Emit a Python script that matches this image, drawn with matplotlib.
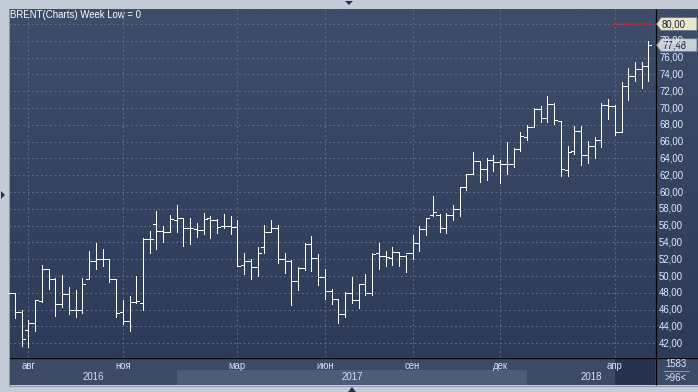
import numpy as np
import matplotlib
matplotlib.use("Agg")
import matplotlib.pyplot as plt
from matplotlib.patches import Rectangle, Polygon
import matplotlib.transforms as mtransforms

W, H = 698, 392

# ---------------- data (weekly OHLC, BRENT) ----------------
opens = [48.4, 48.0, 45.7, 43.6, 44.4, 47.0, 50.8, 49.6, 46.7, 47.9,
         46.0, 46.0, 49.7, 51.8, 52.0, 52.0, 49.6, 45.7, 44.6, 46.9,
         46.75, 54.4, 56.2, 55.4, 55.2, 56.7, 56.9, 55.7, 55.6, 55.5,
         56.9, 56.7, 55.9, 56.0, 55.8, 51.3, 51.8, 51.1, 53.5, 55.2,
         55.7, 52.0, 51.8, 49.4, 50.9, 53.8, 52.2, 49.9, 48.2, 47.3,
         45.5, 48.0, 47.1, 49.0, 48.0, 52.7, 52.4, 52.2, 52.9, 52.4,
         52.7, 53.9, 55.6, 57.3, 57.3, 55.75, 57.3, 58.0, 60.6, 62.1,
         63.7, 62.7, 63.8, 63.6, 63.3, 63.3, 65.1, 66.6, 67.7, 69.9,
         68.8, 70.5, 68.5, 62.6, 64.9, 67.3, 64.4, 65.5, 66.2, 70.4,
         70.3, 67.1, 72.6, 73.8, 74.6, 75.0]
highs = [48.8, 48.0, 45.9, 44.8, 47.2, 51.3, 50.8, 49.8, 50.1, 48.7,
         48.3, 49.8, 53.0, 53.9, 53.2, 52.0, 49.7, 47.1, 47.6, 50.0,
         54.5, 55.4, 57.7, 56.0, 57.3, 58.45, 56.95, 56.9, 56.3, 57.5,
         57.1, 56.8, 57.4, 57.2, 56.7, 52.7, 52.0, 53.4, 56.1, 56.7,
         56.1, 52.7, 51.9, 51.1, 53.9, 54.8, 52.6, 50.8, 48.4, 47.3,
         48.1, 49.9, 49.1, 50.3, 52.8, 53.9, 53.0, 53.5, 52.9, 52.5,
         54.9, 55.95, 56.9, 59.5, 57.4, 57.5, 58.5, 60.6, 62.2, 64.8,
         63.7, 64.0, 64.4, 63.8, 66.0, 65.3, 67.1, 68.0, 70.0, 70.3,
         71.4, 70.6, 68.5, 65.5, 67.9, 67.9, 66.1, 66.5, 70.6, 71.1,
         70.4, 73.1, 74.8, 75.5, 75.5, 78.0]
lows = [47.7, 45.0, 41.7, 41.5, 43.4, 46.9, 48.5, 45.3, 46.3, 45.5,
        45.1, 45.6, 49.6, 50.8, 51.2, 49.3, 45.1, 44.25, 43.5, 46.8,
        45.9, 52.8, 53.2, 54.1, 55.2, 55.3, 53.6, 53.8, 54.7, 55.0,
        54.5, 55.1, 55.7, 55.0, 51.2, 50.2, 49.7, 50.0, 52.7, 55.2,
        51.6, 50.4, 46.6, 48.3, 50.7, 50.6, 48.9, 47.3, 46.7, 44.4,
        45.1, 46.8, 46.2, 47.7, 47.7, 50.8, 51.2, 51.3, 51.2, 50.5,
        52.0, 53.0, 54.9, 57.2, 55.2, 55.1, 56.7, 57.1, 60.2, 62.1,
        61.15, 61.4, 62.5, 61.1, 62.1, 63.0, 64.9, 66.2, 67.7, 68.3,
        68.3, 68.1, 61.9, 61.9, 64.5, 63.2, 63.5, 64.1, 65.4, 68.7,
        66.8, 67.1, 71.0, 73.2, 72.4, 73.2]
closes = [48.0, 45.7, 42.5, 44.4, 47.2, 50.8, 49.6, 46.7, 47.9, 46.0,
          46.0, 49.0, 51.8, 52.0, 52.0, 49.6, 45.6, 44.6, 46.9, 47.0,
          54.4, 54.4, 55.4, 55.2, 56.75, 56.9, 55.7, 55.7, 55.5, 56.8,
          56.7, 55.8, 56.0, 55.8, 51.2, 51.8, 51.1, 52.8, 55.3, 55.7,
          52.0, 51.8, 49.4, 50.9, 53.8, 52.2, 49.9, 48.25, 47.3, 45.5,
          48.0, 47.1, 49.0, 48.0, 52.6, 52.4, 52.3, 52.9, 52.4, 52.7,
          53.9, 55.6, 56.9, 57.6, 55.75, 57.3, 58.0, 60.6, 62.1, 63.7,
          62.7, 63.8, 63.6, 63.3, 63.3, 65.1, 66.7, 67.7, 69.9, 68.8,
          70.5, 68.6, 62.7, 64.8, 67.3, 64.4, 65.5, 66.2, 70.4, 70.3,
          67.1, 72.6, 73.8, 74.6, 75.0, 77.48]

month_labels = ["авг", "ноя", "мар", "июн", "сен", "дек", "апр"]
month_bar_index = [3, 17, 34, 47, 60, 73, 90]
year_labels = ["2016", "2017", "2018"]
year_start_index = [0, 25, 77]      # first weekly bar of each year
y_tick_values = list(range(42, 82, 2))
last_price = 77.48
alert_level = 80.0
title_text = "BRENT(Charts) Week Low = 0"
bar_count_text = "1583"
visible_count_text = ">96<"

FS = 6.9
FONT = "Liberation Sans"

# ---------------- figure ----------------
fig = plt.figure(figsize=(W / 100, H / 100), dpi=100)
fig.patch.set_facecolor("#c3cbd7")

bg = fig.add_axes([0, 0, 1, 1], zorder=0)
bg.set_xlim(0, W)
bg.set_ylim(H, 0)
bg.axis("off")

# plot background gradient (plot + right scale)
grad = np.linspace(0, 1, 256)
top = np.array([62, 77, 105]) / 255
bot = np.array([45, 58, 88]) / 255
img = (top[None, :] + (bot - top)[None, :] * grad[:, None])[:, None, :]
img = np.repeat(img, 2, axis=1)
bg.imshow(img, extent=(9, W, 357, 9), aspect="auto", interpolation="bilinear", zorder=0)

# bottom time axis rows
bg.add_patch(Rectangle((9, 357), W - 9, 28, facecolor="#3c4a66", edgecolor="none", zorder=1))

# main axes
x0_px, x1_px = 9, 655
y0_px, y1_px = 9, 357
ax = fig.add_axes([x0_px / W, 1 - y1_px / H, (x1_px - x0_px) / W, (y1_px - y0_px) / H], zorder=2)
ax.patch.set_alpha(0)
xlim = (0.12, 95.97)
ylim = (40.36, 81.79)
ax.set_xlim(*xlim)
ax.set_ylim(*ylim)
for s in ax.spines.values():
    s.set_visible(False)
ax.set_xticks([])
ax.set_yticks([])


def px_x(i):
    return x0_px + (i - xlim[0]) / (xlim[1] - xlim[0]) * (x1_px - x0_px)


# year row: 2017 highlighted
for k, lab in enumerate(year_labels):
    a = max(year_start_index[k], xlim[0])
    b = year_start_index[k + 1] if k + 1 < len(year_start_index) else xlim[1]
    col = "#4d5c79" if lab == "2017" else "#3c4a66"
    bg.add_patch(Rectangle((px_x(a), 370), px_x(b) - px_x(a), 15,
                           facecolor=col, edgecolor="none", zorder=1.5))
    cx = (px_x(a) + px_x(b)) / 2
    bg.text(cx, 377.5, lab, color="#d7e1f2", fontsize=FS, family=FONT,
            ha="center", va="center", zorder=5)

# darker current-month box
bg.add_patch(Rectangle((px_x(month_bar_index[-1]), 358), x1_px - px_x(month_bar_index[-1]), 27,
                       facecolor="#27334d", edgecolor="none", zorder=1.6))

# month labels
for lab, idx in zip(month_labels, month_bar_index):
    bg.text(px_x(idx), 366, lab, color="#d7e1f2", fontsize=FS, family=FONT,
            ha="center", va="center", zorder=5)

# black separators
bg.plot([9, W], [357.5, 357.5], color="black", lw=0.9, zorder=3, solid_capstyle="butt")
bg.plot([655.5, 655.5], [9, 385], color="black", lw=0.9, zorder=3, solid_capstyle="butt")
# outer borders
bg.plot([9, 9], [9, 385], color="#8e98a8", lw=0.7, zorder=3)
bg.plot([9, W], [385.5, 385.5], color="#8e98a8", lw=0.7, zorder=3)

# grid lines
for v in y_tick_values:
    ax.axhline(v, color="#5b6a86", lw=0.72, ls=(0, (2, 2.5)), zorder=1)
for idx in month_bar_index:
    ax.axvline(idx, color="#5b6a86", lw=0.72, ls=(0, (2, 2.5)), zorder=1)

# OHLC bars
idx = np.arange(len(closes))
t = 0.45
ax.vlines(idx, lows, highs, color="white", lw=0.72, antialiased=False, zorder=3)
ax.hlines(opens, idx - t, idx, color="white", lw=0.72, antialiased=False, zorder=3)
ax.hlines(closes, idx, idx + t, color="white", lw=0.72, antialiased=False, zorder=3)

# alert level dotted red line
ax.plot([89.9, 95.6], [alert_level, alert_level], color="#c8262a", lw=1.7,
        ls=(0, (1.25, 0.85)), zorder=4, solid_capstyle="butt")

# title
bg.text(10, 15, title_text, color="white", fontsize=FS, family=FONT,
        ha="left", va="center", zorder=5)

# right scale labels
tr = mtransforms.blended_transform_factory(bg.transData, ax.transData)
for v in y_tick_values:
    if v == 80:
        continue
    ax.text(659, v, f"{v:.2f}".replace(".", ","), transform=tr, color="#e3ebf8",
            fontsize=FS, family=FONT, ha="left", va="center",
            clip_on=False, zorder=5)


def tag(value, face, txtcol):
    ypx = y0_px + (ylim[1] - value) / (ylim[1] - ylim[0]) * (y1_px - y0_px)
    pts = [(656.5, ypx), (661, ypx - 6.5), (697, ypx - 6.5), (697, ypx + 6.5), (661, ypx + 6.5)]
    bg.add_patch(Polygon(pts, closed=True, facecolor=face, edgecolor="#6b7380", lw=0.6, zorder=6))
    bg.text(662, ypx + 0.3, f"{value:.2f}".replace(".", ","), color=txtcol, fontsize=FS,
            family=FONT, ha="left", va="center", zorder=7)


tag(alert_level, "#e8e6cd", "#1b2638")
tag(last_price, "#c9d0d9", "#1b2638")

# bar counts box (bottom right)
bg.text(676, 364, bar_count_text, color="#dbe4f3", fontsize=FS, family=FONT,
        ha="center", va="center", zorder=5)
bg.plot([664, 689], [370.5, 370.5], color="#9aa6ba", lw=0.6, zorder=5)
bg.text(676, 378, visible_count_text, color="#dbe4f3", fontsize=FS, family=FONT,
        ha="center", va="center", zorder=5)

# small navigation triangles
bg.add_patch(Polygon([(345, 1), (353, 1), (349, 5)], closed=True, facecolor="#2a3448", edgecolor="none", zorder=6))
bg.add_patch(Polygon([(348, 392), (356, 392), (352, 387)], closed=True, facecolor="#2a3448", edgecolor="none", zorder=6))
bg.add_patch(Polygon([(1, 191), (1, 199), (5, 195)], closed=True, facecolor="#2a3448", edgecolor="none", zorder=6))

fig.savefig("out.png", dpi=100, facecolor=fig.get_facecolor())
